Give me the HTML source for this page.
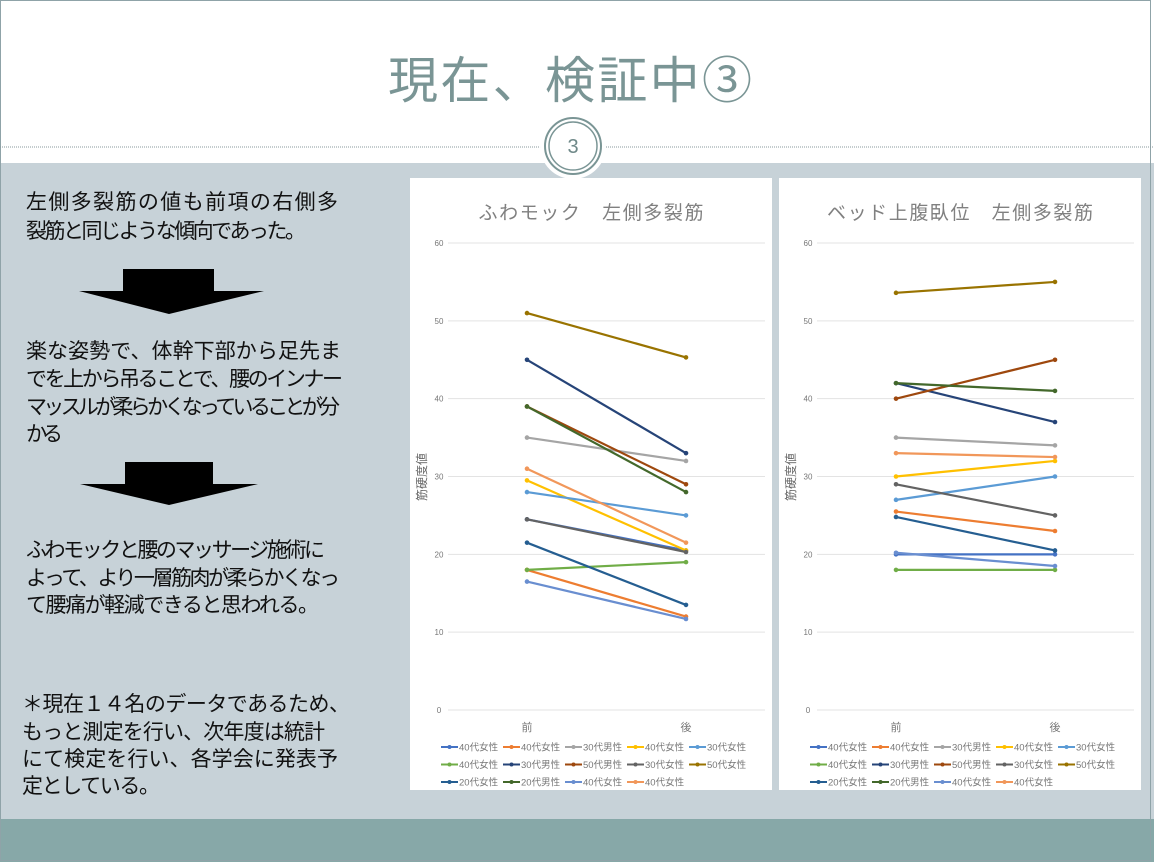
<!DOCTYPE html>
<html><head><meta charset="utf-8"><style>
html,body{margin:0;padding:0;background:#fff}
svg{display:block}
text{font-family:"Liberation Sans","Noto Sans CJK JP",sans-serif}
</style></head><body>
<svg id="s" width="1154" height="862" xmlns="http://www.w3.org/2000/svg">
<rect x="0" y="0" width="1154" height="862" fill="#fff"/>
<rect x="0" y="163" width="1154" height="656" fill="#c7d2d8"/>
<rect x="0" y="819" width="1154" height="43" fill="#87a8a8"/>
<rect x="0.5" y="0.5" width="1150" height="860" fill="none" stroke="#8fa3a8" stroke-width="1"/>
<line x1="0" y1="147" x2="1154" y2="147" stroke="#8a9a9c" stroke-width="1" stroke-dasharray="1,1"/>
<text x="570" y="98" font-size="50" fill="#7a9595" text-anchor="middle" textLength="364">現在、検証中③</text>
<circle cx="573" cy="146" r="33" fill="#fff"/>
<circle cx="573" cy="146" r="28" fill="none" stroke="#7a9595" stroke-width="2"/>
<circle cx="573" cy="146" r="24" fill="none" stroke="#7a9595" stroke-width="1.5"/>
<text x="573" y="153" font-size="20" fill="#6e8888" text-anchor="middle">3</text>
<g font-size="21" fill="#111" lengthAdjust="spacingAndGlyphs">
<text x="26" y="209" textLength="312">左側多裂筋の値も前項の右側多</text>
<text x="26" y="238" textLength="280">裂筋と同じような傾向であった。</text>
<text x="26" y="358" textLength="315">楽な姿勢で、体幹下部から足先ま</text>
<text x="26" y="386" textLength="317">でを上から吊ることで、腰のインナー</text>
<text x="26" y="414" textLength="314">マッスルが柔らかくなっていることが分</text>
<text x="26" y="441" textLength="37">かる</text>
<text x="26" y="557" textLength="299">ふわモックと腰のマッサージ施術に</text>
<text x="26" y="585" textLength="314">よって、より一層筋肉が柔らかくなっ</text>
<text x="26" y="612" textLength="293">て腰痛が軽減できると思われる。</text>
<text x="22" y="711" textLength="328">＊現在１４名のデータであるため、</text>
<text x="22" y="739" textLength="303">もっと測定を行い、次年度は統計</text>
<text x="22" y="766" textLength="316">にて検定を行い、各学会に発表予</text>
<text x="22" y="793" textLength="138">定としている。</text>
</g>
<polygon points="123,269 214,269 214,291 264,291 169,314 79,291 123,291" fill="#000"/>
<polygon points="125,462 213,462 213,484 258,484 169,505 80,484 125,484" fill="#000"/>
<g id="charts"></g>
</svg>
<script>
var colors=["#4472C4","#ED7D31","#A5A5A5","#FFC000","#5B9BD5","#70AD47","#264478","#9E480E","#636363","#997300","#255E91","#43682B","#698ED0","#F1975A"];
var names=["40代女性","40代女性","30代男性","40代女性","30代女性","40代女性","30代男性","50代男性","30代女性","50代女性","20代女性","20代男性","40代女性","40代女性"];
var d1=[[24.5,20.5],[18,12],[35,32],[29.5,20.5],[28,25],[18,19],[45,33],[39,29],[24.5,20.3],[51,45.3],[21.5,13.5],[39,28],[16.5,11.7],[31,21.5]];
var d2=[[20,20],[25.5,23],[35,34],[30,32],[27,30],[18,18],[42,37],[40,45],[29,25],[53.6,55],[24.8,20.5],[42,41],[20.2,18.5],[33,32.5]];
var g=document.getElementById("charts"),h="";
function chart(px,title,d,tl){
 h+='<rect x="'+px+'" y="178" width="362" height="612" fill="#fff"/>';
 h+='<text x="'+(px+181)+'" y="219" font-size="19" fill="#808080" text-anchor="middle" textLength="'+tl+'">'+title+'</text>';
 var gx0=px+38,gx1=px+355,x1=px+117,x2=px+276;
 for(var v=0;v<=60;v+=10){var y=710-v*7.783;
  h+='<line x1="'+gx0+'" y1="'+y+'" x2="'+gx1+'" y2="'+y+'" stroke="#e3e3e3" stroke-width="1"/>';
  h+='<text x="'+(px+29)+'" y="'+(y+3)+'" font-size="8" fill="#777" text-anchor="middle">'+v+'</text>';}
 h+='<text transform="translate('+(px+16)+',477) rotate(-90)" font-size="12" fill="#666" text-anchor="middle">筋硬度値</text>';
 h+='<text x="'+x1+'" y="731" font-size="11" fill="#777" text-anchor="middle">前</text>';
 h+='<text x="'+x2+'" y="731" font-size="11" fill="#777" text-anchor="middle">後</text>';
 for(var i=0;i<14;i++){var c=colors[i],ya=710-d[i][0]*7.783,yb=710-d[i][1]*7.783;
  h+='<line x1="'+x1+'" y1="'+ya+'" x2="'+x2+'" y2="'+yb+'" stroke="'+c+'" stroke-width="2.2"/>';
  h+='<circle cx="'+x1+'" cy="'+ya+'" r="2.3" fill="'+c+'"/><circle cx="'+x2+'" cy="'+yb+'" r="2.3" fill="'+c+'"/>';
  var r=Math.floor(i/5),col=i%5,lx=px+31+col*62,ly=747+r*17.5;
  h+='<line x1="'+lx+'" y1="'+ly+'" x2="'+(lx+17)+'" y2="'+ly+'" stroke="'+c+'" stroke-width="2"/><circle cx="'+(lx+8.5)+'" cy="'+ly+'" r="2" fill="'+c+'"/>';
  h+='<text x="'+(lx+18)+'" y="'+(ly+3.5)+'" font-size="9.5" fill="#777">'+names[i]+'</text>';}
}
chart(410,"ふわモック　左側多裂筋",d1,225);
chart(779,"ベッド上腹臥位　左側多裂筋",d2,266);
g.innerHTML=h;
</script>
</body></html>
